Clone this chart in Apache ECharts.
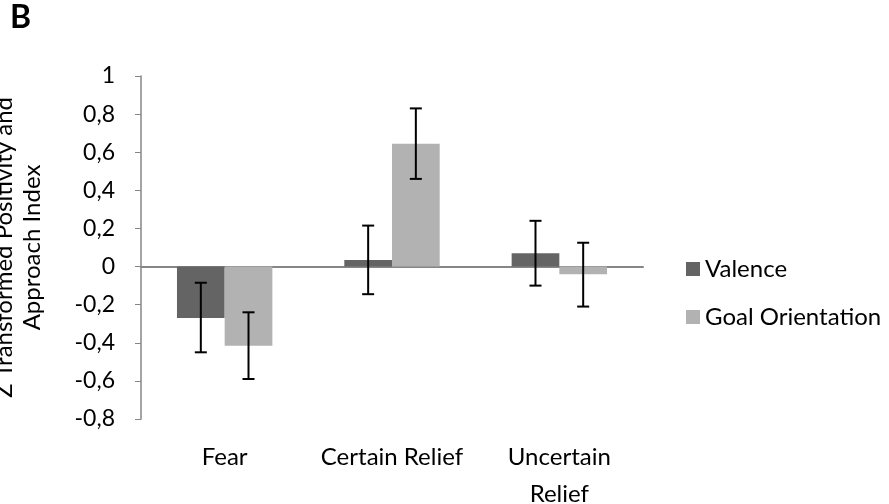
<!DOCTYPE html>
<html><head><meta charset="utf-8">
<script src="https://cdn.jsdelivr.net/npm/echarts@6/dist/echarts.min.js"></script>
<style>html,body{margin:0;padding:0;background:#fff}#c{width:889px;height:504px}</style>
</head><body><div id="c"></div>
<script>
const categories = ['Fear', 'Certain Relief', 'Uncertain\nRelief'];
const seriesNames = ['Valence', 'Goal Orientation'];
const valence = [-0.27, 0.035, 0.07];
const goal = [-0.415, 0.645, -0.04];
const valenceLow = [-0.45, -0.145, -0.10];
const valenceHigh = [-0.085, 0.215, 0.24];
const goalLow = [-0.59, 0.46, -0.21];
const goalHigh = [-0.24, 0.83, 0.125];
const yTicks = [-0.8, -0.6, -0.4, -0.2, 0, 0.2, 0.4, 0.6, 0.8, 1];

const FONT = 'Lato';
const chart = echarts.init(document.getElementById('c'));

function errSeries(low, high, idx) {
  return {
    type: 'custom', xAxisIndex: 0, yAxisIndex: 0, z: 10,
    data: low.map((l, i) => [i, l, high[i]]),
    renderItem: function (params, api) {
      const x = api.value(0);
      const band = api.size([1, 0])[0];
      const off = band * 0.1425 * (idx === 0 ? -1 : 1);
      const p1 = api.coord([x, api.value(1)]);
      const p2 = api.coord([x, api.value(2)]);
      const cx = p1[0] + off;
      const cap = 6;
      const st = { stroke: '#000', lineWidth: 2 };
      return { type: 'group', children: [
        { type: 'line', shape: { x1: cx, y1: p1[1], x2: cx, y2: p2[1] }, style: st },
        { type: 'line', shape: { x1: cx - cap, y1: p1[1], x2: cx + cap, y2: p1[1] }, style: st },
        { type: 'line', shape: { x1: cx - cap, y1: p2[1], x2: cx + cap, y2: p2[1] }, style: st }
      ]};
    }
  };
}

chart.setOption({
  animation: false,
  textStyle: { fontFamily: FONT },
  graphic: [{ type: 'text', left: 10, top: 2, style: { text: 'B', font: 'bold 32px ' + FONT, fill: '#000' } }],
  legend: {
    orient: 'vertical', left: 681, top: 252, itemWidth: 14, itemHeight: 14, itemGap: 24,
    icon: 'rect', textStyle: { fontSize: 24, color: '#000', fontFamily: FONT },
    data: seriesNames
  },
  grid: { left: 141, top: 76, width: 502, height: 343, containLabel: false, outerBoundsMode: 'none' },
  xAxis: [{
    type: 'category', data: categories, position: 'bottom',
    axisLine: { show: false, onZero: false }, axisTick: { show: false },
    axisLabel: { fontSize: 24, color: '#000', margin: 20, lineHeight: 37, fontFamily: FONT, interval: 0 }
  }, {
    type: 'category', data: categories, gridIndex: 0,
    axisLine: { show: true, onZero: true, lineStyle: { color: '#868686', width: 2 } },
    axisTick: { show: false }, axisLabel: { show: false }
  }],
  yAxis: {
    type: 'value', min: -0.8, max: 1, interval: 0.2,
    name: 'Z Transformed Positivity and\nApproach Index',
    nameLocation: 'middle', nameRotate: 90, nameGap: 95,
    nameTextStyle: { fontSize: 24, color: '#000', lineHeight: 28, fontFamily: FONT },
    axisLine: { show: true, lineStyle: { color: '#868686', width: 1.5 } },
    axisTick: { show: true, inside: false, length: 6, lineStyle: { color: '#868686' } },
    splitLine: { show: false },
    axisLabel: { fontSize: 23, color: '#000', margin: 26, fontFamily: FONT,
      formatter: v => { const t = yTicks.find(k => Math.abs(k - v) < 1e-9); return String(Math.round((t !== undefined ? t : v) * 10) / 10).replace('.', ','); } }
  },
  series: [
    { name: seriesNames[0], type: 'bar', data: valence, itemStyle: { color: '#646464' }, barGap: '0%', barCategoryGap: '43%' },
    { name: seriesNames[1], type: 'bar', data: goal, itemStyle: { color: '#b2b2b2' }, barGap: '0%', barCategoryGap: '43%' },
    errSeries(valenceLow, valenceHigh, 0),
    errSeries(goalLow, goalHigh, 1)
  ]
});
</script></body></html>
